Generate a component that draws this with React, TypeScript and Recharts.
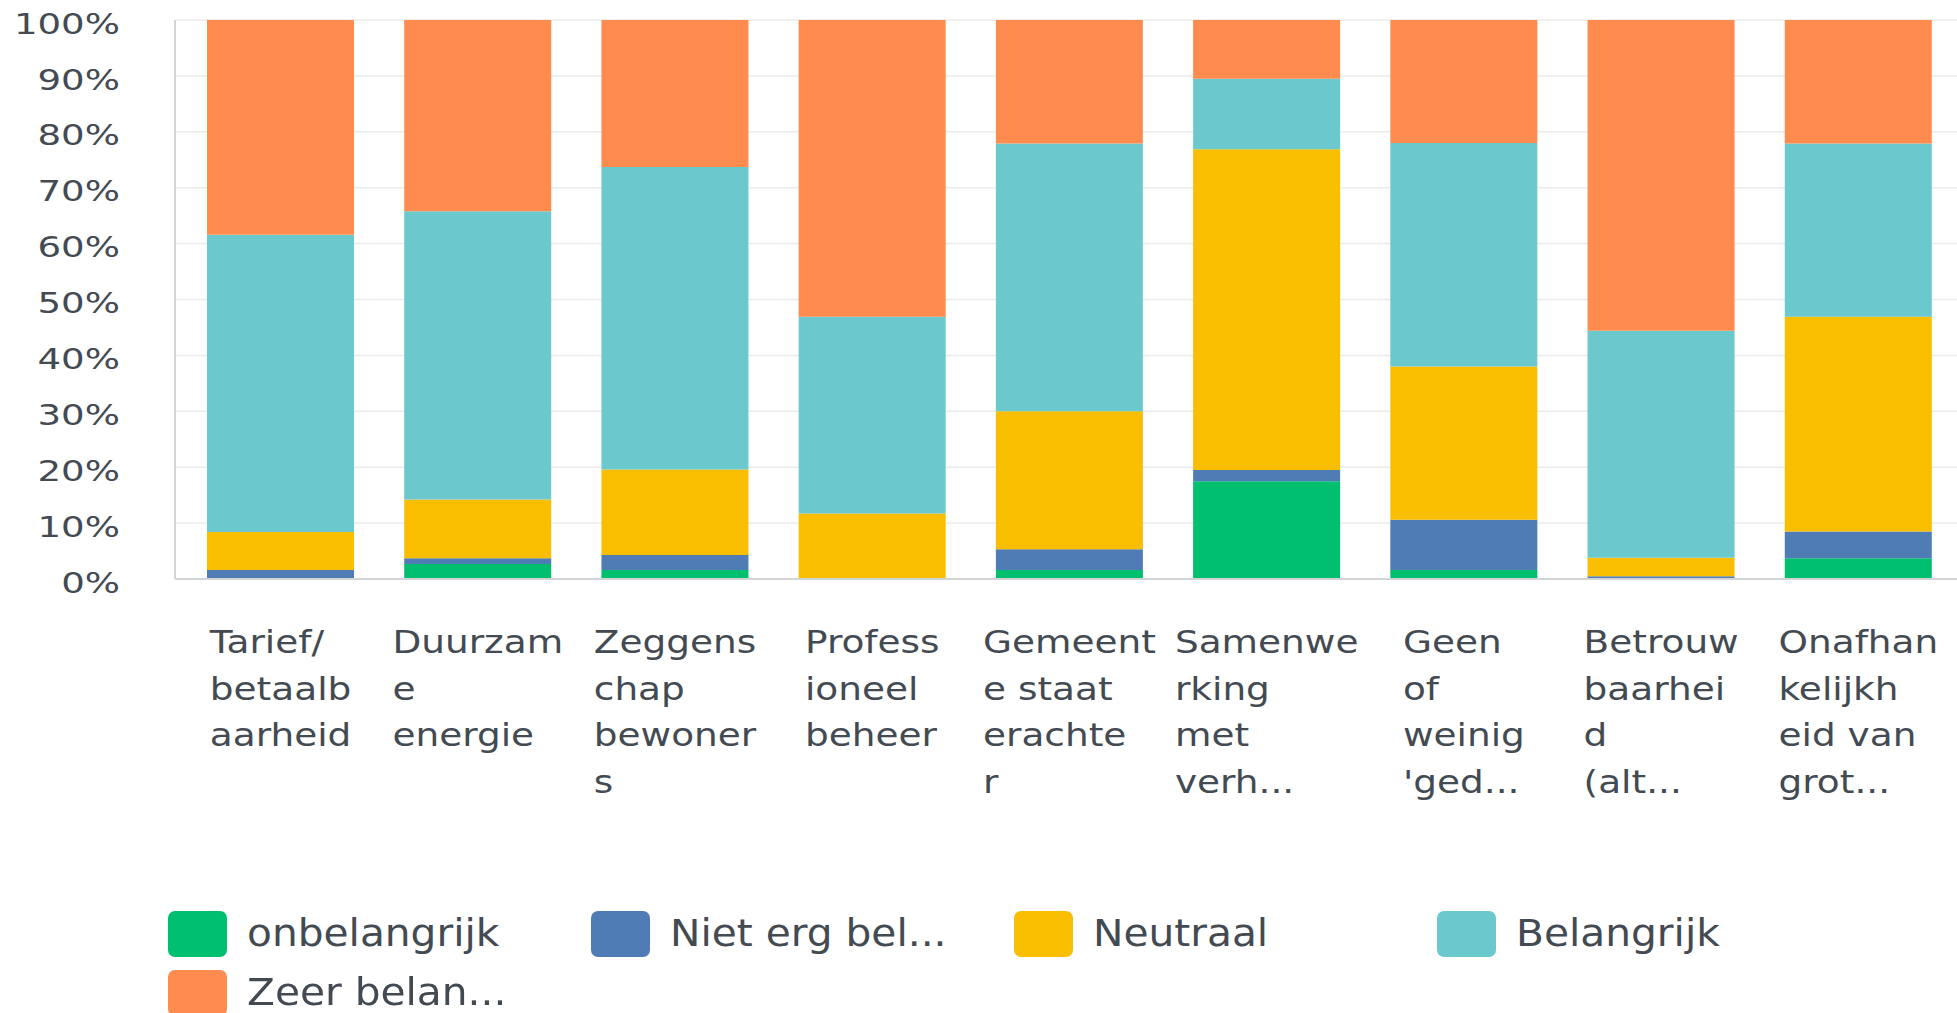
import React from 'react';
import { BarChart, Bar, XAxis, YAxis, CartesianGrid, Legend } from 'recharts';

const categories = [
  'Tarief/betaalbaarheid',
  'Duurzame energie',
  'Zeggenschap bewoners',
  'Professioneel beheer',
  'Gemeente staat erachter',
  'Samenwerking met verh...',
  "Geen of weinig 'ged...",
  'Betrouwbaarheid (alt...',
  'Onafhankelijkheid van grot...',
];

const tickLines: string[][] = [
  ['Tarief/', 'betaalb', 'aarheid'],
  ['Duurzam', 'e', 'energie'],
  ['Zeggens', 'chap', 'bewoner', 's'],
  ['Profess', 'ioneel', 'beheer'],
  ['Gemeent', 'e staat', 'erachte', 'r'],
  ['Samenwe', 'rking', 'met', 'verh...'],
  ['Geen', 'of', 'weinig', "'ged..."],
  ['Betrouw', 'baarhei', 'd', '(alt...'],
  ['Onafhan', 'kelijkh', 'eid van', 'grot...'],
];

const onbelangrijk = [0, 2.7, 1.6, 0, 1.6, 17.5, 1.6, 0, 3.7];
const nietErgBelangrijk = [1.6, 1.0, 2.7, 0, 3.7, 2.0, 9.0, 0.5, 4.8];
const neutraal = [6.8, 10.5, 15.3, 11.7, 24.7, 57.4, 27.4, 3.3, 38.4];
const belangrijk = [53.2, 51.6, 54.1, 35.2, 47.9, 12.6, 40.0, 40.6, 31.0];
const zeerBelangrijk = [38.4, 34.2, 26.3, 53.1, 22.1, 10.5, 22.0, 55.6, 22.1];

const seriesNames = ['onbelangrijk', 'Niet erg bel...', 'Neutraal', 'Belangrijk', 'Zeer belan...'];
const seriesKeys = ['s0', 's1', 's2', 's3', 's4'];
const seriesColors = ['#00BF6F', '#507CB6', '#F9BE00', '#6BC8CD', '#FF8B4F'];
const seriesValues = [onbelangrijk, nietErgBelangrijk, neutraal, belangrijk, zeerBelangrijk];

const yTicks = [0, 10, 20, 30, 40, 50, 60, 70, 80, 90, 100];

const data = categories.map((name, i) => {
  const row: any = { name };
  seriesKeys.forEach((k, j) => {
    row[k] = seriesValues[j][i];
  });
  return row;
});

const TEXT = '#434a52';
const FONT = 'DejaVu Sans';
const X_FS = 32;
const X_SX = 1.17;
const X_FIRST = 74;
const X_LH = 46.7;
const Y_FS = 29;
const Y_SX = 1.28;

let ctx: CanvasRenderingContext2D | null = null;
function measure(text: string, font: string): number {
  if (!ctx) ctx = document.createElement('canvas').getContext('2d');
  if (!ctx) return text.length * 20;
  ctx.font = font;
  return ctx.measureText(text).width;
}

const XTick = (props: any) => {
  const { x, y, payload } = props;
  const idx = categories.indexOf(payload.value);
  const lines = tickLines[idx] || [];
  const widths = lines.map((l) => measure(l, `${X_FS}px "${FONT}"`) * X_SX);
  const maxW = Math.max(0, ...widths);
  const left = x - maxW / 2;
  return (
    <g>
      {lines.map((l, i) => (
        <text
          key={i}
          transform={`translate(${left},${y + X_FIRST + i * X_LH}) scale(${X_SX},1)`}
          fontSize={X_FS}
          fontFamily={FONT}
          fill={TEXT}
          textAnchor="start"
        >
          {l}
        </text>
      ))}
    </g>
  );
};

const YTick = (props: any) => {
  const { x, y, payload } = props;
  return (
    <text
      transform={`translate(${x},${y}) scale(${Y_SX},1)`}
      fontSize={Y_FS}
      fontFamily={FONT}
      fill={TEXT}
      textAnchor="end"
      dy="0.47em"
    >
      {`${payload.value}%`}
    </text>
  );
};

const LegendContent = () => (
  <div style={{ display: 'flex', flexWrap: 'wrap', width: 1957, paddingLeft: 168, boxSizing: 'border-box' }}>
    {seriesNames.map((n, i) => (
      <div key={n} style={{ width: 423, height: 59, display: 'flex', alignItems: 'center' }}>
        <div style={{ width: 59, height: 46, borderRadius: 7, background: seriesColors[i], flex: 'none' }} />
        <span
          style={{
            marginLeft: 20,
            fontSize: 37,
            fontFamily: FONT,
            color: TEXT,
            transform: 'scaleX(1.1)',
            transformOrigin: 'left center',
            whiteSpace: 'nowrap',
            display: 'inline-block',
          }}
        >
          {n}
        </span>
      </div>
    ))}
  </div>
);

export default function App() {
  return (
    <div style={{ position: 'fixed', left: 0, top: 0, width: 1957, height: 1013, background: '#fff' }}>
      <BarChart
        width={1957}
        height={1013}
        data={data}
        margin={{ top: 20, right: 0, left: 0, bottom: 0 }}
      >
        <CartesianGrid vertical={false} stroke="#ebebeb" strokeWidth={1.5} />
        <XAxis
          dataKey="name"
          interval={0}
          height={434}
          tickLine={false}
          tickSize={0}
          tickMargin={0}
          axisLine={{ stroke: '#d2d4d6', strokeWidth: 2 }}
          padding={{ left: 7, right: 0 }}
          tick={<XTick />}
        />
        <YAxis
          type="number"
          domain={[0, 100]}
          ticks={yTicks}
          interval={0}
          width={175}
          tickLine={false}
          tickSize={0}
          tickMargin={55}
          axisLine={{ stroke: '#d2d4d6', strokeWidth: 2 }}
          tick={<YTick />}
        />
        <Legend
          layout="horizontal"
          verticalAlign="middle"
          align="center"
          wrapperStyle={{ top: 904, left: 0, width: 1957 }}
          content={<LegendContent />}
        />
        {seriesKeys.map((k, j) => (
          <Bar
            key={k}
            dataKey={k}
            name={seriesNames[j]}
            stackId="a"
            fill={seriesColors[j]}
            barSize={147}
            isAnimationActive={false}
          />
        ))}
      </BarChart>
    </div>
  );
}
